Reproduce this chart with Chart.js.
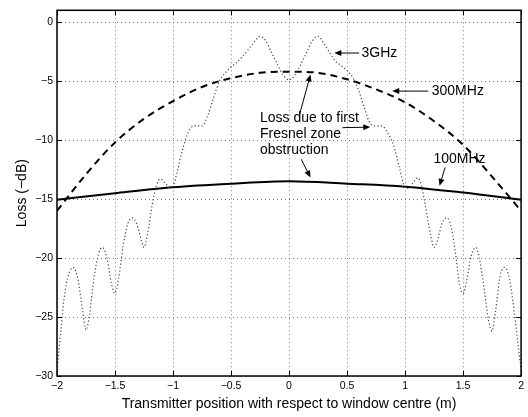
<!DOCTYPE html>
<html>
<head>
<meta charset="utf-8">
<script src="https://cdn.jsdelivr.net/npm/chart.js@4.4.1/dist/chart.umd.min.js"></script>
<style>
  html, body { margin: 0; padding: 0; background: #fff; }
  #c { display: block; }
</style>
</head>
<body>
<canvas id="c" width="528" height="417"></canvas>
<script>
// ── Data ─────────────────────────────────────────────────────────────────────
const xTicks = [-2, -1.5, -1, -0.5, 0, 0.5, 1, 1.5, 2];
const yTicks = [0, -5, -10, -15, -20, -25, -30];

// 100MHz, solid
const x100    = [-2, -1.5, -1, -0.5, 0, 0.5, 1, 1.5, 2];
const loss100 = [-15.05, -14.5, -14.0, -13.7, -13.5, -13.7, -13.95, -14.45, -15.05];

// 300MHz, dashed
const x300    = [-2, -1.75, -1.5, -1.25, -1, -0.75, -0.5, -0.25, 0, 0.25, 0.5, 0.75, 1, 1.25, 1.5, 1.75, 2];
const loss300 = [-16.0, -12.9, -10.2, -8.2, -6.7, -5.5, -4.75, -4.3, -4.2, -4.3, -4.85, -5.7, -6.8, -8.4, -10.4, -13.1, -16.0];

// 3GHz, dotted
const x3 = [
  -2.00, -1.97, -1.94, -1.90, -1.86, -1.82, -1.78, -1.75, -1.72, -1.68,
  -1.64, -1.61, -1.57, -1.53, -1.50, -1.47, -1.43, -1.39, -1.35, -1.31,
  -1.27, -1.25, -1.22, -1.18, -1.14, -1.11, -1.07, -1.03, -1.00, -0.96,
  -0.92, -0.88, -0.85, -0.80, -0.75, -0.70, -0.65, -0.60, -0.55, -0.50,
  -0.45, -0.40, -0.35, -0.30, -0.25, -0.20, -0.15, -0.10, -0.05,  0.00,
   0.05,  0.10,  0.15,  0.20,  0.25,  0.30,  0.35,  0.40,  0.45,  0.50,
   0.55,  0.60,  0.65,  0.70,  0.75,  0.80,  0.85,  0.90,  0.95,  1.00,
   1.03,  1.07,  1.11,  1.14,  1.17,  1.22,  1.25,  1.28,  1.32,  1.36,
   1.40,  1.44,  1.47,  1.50,  1.53,  1.57,  1.61,  1.64,  1.68,  1.72,
   1.75,  1.78,  1.82,  1.86,  1.90,  1.94,  1.97,  2.00
];
const loss3 = [
  -29.5, -26.5, -23.5, -21.4, -20.8, -21.8, -24.4, -26.1, -24.8, -21.6,
  -19.6, -19.1, -20.0, -22.2, -23.0, -21.8, -19.0, -17.1, -16.6, -17.2,
  -18.6, -19.1, -18.0, -15.5, -13.8, -13.3, -13.6, -14.0, -13.9, -12.5,
  -10.9,  -9.6,  -9.0,  -8.8,  -8.8,  -7.9,  -6.4,  -5.0,  -4.3,  -3.8,
   -3.4,  -2.9,  -2.3,  -1.7,  -1.2,  -1.6,  -2.6,  -3.6,  -4.5,  -4.9,
   -4.5,  -3.6,  -2.6,  -1.6,  -1.2,  -1.8,  -2.6,  -3.3,  -3.7,  -4.1,
   -4.7,  -5.8,  -7.3,  -8.6,  -8.8,  -8.8,  -9.4, -10.4, -12.3, -14.0,
  -14.1, -13.6, -13.2, -13.8, -15.3, -18.0, -19.1, -18.5, -17.0, -16.6,
  -17.5, -20.0, -22.3, -23.0, -22.0, -19.8, -19.1, -20.0, -22.5, -25.3,
  -26.2, -24.5, -21.5, -20.8, -21.8, -24.5, -27.0, -29.5
];

// Text annotations, in data units
const notes = [
  { lines: ['3GHz'],   x: 0.625, y: -2.64 },
  { lines: ['300MHz'], x: 1.23,  y: -5.85 },
  { lines: ['Loss due to first', 'Fresnel zone', 'obstruction'], x: -0.25, y: -8.1 },
  { lines: ['100MHz'], x: 1.245, y: -11.62 }
];
const arrows = [
  { from: [0.604, -2.62],  to: [0.39, -2.62] },
  { from: [1.20, -5.85],   to: [0.889, -5.85] },
  { from: [0.091, -7.82],  to: [0.185, -4.44] },
  { from: [0.46, -8.95],   to: [0.70, -8.9] },
  { from: [0.105, -11.62], to: [0.185, -13.18] },
  { from: [1.345, -12.33], to: [1.297, -13.88] }
];

const FONT = "'Liberation Sans', Arial, Helvetica, sans-serif";
const minus = v => String(v).replace('-', '\u2212');
const pts = (xs, ys) => xs.map((x, i) => ({ x, y: ys[i] }));

// ── Ram, inåtriktade tickmarkeringar och annoteringar ────────────────────────
const framePlugin = {
  id: 'frame',
  afterDatasetsDraw(chart) {
    const { ctx, chartArea: a, scales: { x, y } } = chart;
    ctx.save();
    ctx.strokeStyle = '#000';
    ctx.lineWidth = 1;
    ctx.beginPath();
    xTicks.forEach(v => {
      const px = Math.round(x.getPixelForValue(v)) + 0.5;
      ctx.moveTo(px, a.bottom); ctx.lineTo(px, a.bottom - 5);
      ctx.moveTo(px, a.top);    ctx.lineTo(px, a.top + 5);
    });
    yTicks.forEach(v => {
      const py = Math.round(y.getPixelForValue(v)) + 0.5;
      ctx.moveTo(a.left, py);  ctx.lineTo(a.left + 5, py);
      ctx.moveTo(a.right, py); ctx.lineTo(a.right - 5, py);
    });
    ctx.stroke();
    ctx.lineWidth = 1.5;
    ctx.strokeRect(a.left, a.top, a.width, a.height);

    // text
    ctx.fillStyle = '#000';
    ctx.font = '14px ' + FONT;
    ctx.textBaseline = 'middle';
    ctx.textAlign = 'left';
    notes.forEach(n => {
      const px = x.getPixelForValue(n.x);
      const py = y.getPixelForValue(n.y);
      n.lines.forEach((t, i) => ctx.fillText(t, px, py + i * 16.4));
    });

    // arrows
    ctx.lineWidth = 1;
    arrows.forEach(ar => {
      const x0 = x.getPixelForValue(ar.from[0]), y0 = y.getPixelForValue(ar.from[1]);
      const x1 = x.getPixelForValue(ar.to[0]),   y1 = y.getPixelForValue(ar.to[1]);
      const ang = Math.atan2(y1 - y0, x1 - x0);
      const hl = 7, hw = 3;
      ctx.beginPath();
      ctx.moveTo(x0, y0);
      ctx.lineTo(x1 - Math.cos(ang) * hl * 0.8, y1 - Math.sin(ang) * hl * 0.8);
      ctx.stroke();
      ctx.beginPath();
      ctx.moveTo(x1, y1);
      ctx.lineTo(x1 - Math.cos(ang) * hl - Math.sin(ang) * hw, y1 - Math.sin(ang) * hl + Math.cos(ang) * hw);
      ctx.lineTo(x1 - Math.cos(ang) * hl + Math.sin(ang) * hw, y1 - Math.sin(ang) * hl - Math.cos(ang) * hw);
      ctx.closePath();
      ctx.fill();
    });
    ctx.restore();
  }
};

const gridStyle = { color: '#777', lineWidth: 1, drawTicks: false, borderDash: [1, 3] };

new Chart(document.getElementById('c').getContext('2d'), {
  type: 'scatter',
  data: {
    datasets: [
      { label: '3GHz', data: pts(x3, loss3), showLine: true, pointRadius: 0,
        borderColor: '#444', borderWidth: 1.2, borderDash: [1.2, 2.3], cubicInterpolationMode: 'monotone' },
      { label: '300MHz', data: pts(x300, loss300), showLine: true, pointRadius: 0,
        borderColor: '#000', borderWidth: 2, borderDash: [7, 5], cubicInterpolationMode: 'monotone' },
      { label: '100MHz', data: pts(x100, loss100), showLine: true, pointRadius: 0,
        borderColor: '#000', borderWidth: 2, cubicInterpolationMode: 'monotone' }
    ]
  },
  options: {
    responsive: false,
    animation: false,
    layout: { padding: { top: 8, right: 3, left: 0, bottom: 0 } },
    plugins: { legend: { display: false }, tooltip: { enabled: false } },
    scales: {
      x: {
        type: 'linear', min: -2, max: 2,
        afterBuildTicks: s => { s.ticks = xTicks.map(v => ({ value: v })); },
        afterFit: s => { s.height = 41; },
        grid: gridStyle,
        border: { display: false, dash: [1, 3] },
        ticks: { color: '#000', padding: 4, font: { family: FONT, size: 10.5 }, callback: v => minus(v), maxRotation: 0 },
        title: { display: true, text: 'Transmitter position with respect to window centre (m)', color: '#000',
                 font: { family: FONT, size: 14 }, padding: { top: 0, bottom: 4.6 } }
      },
      y: {
        type: 'linear', min: -30, max: 1,
        afterBuildTicks: s => { s.ticks = yTicks.map(v => ({ value: v })); },
        afterFit: s => { s.width = 57; },
        grid: gridStyle,
        border: { display: false, dash: [1, 3] },
        ticks: { color: '#000', padding: 4, font: { family: FONT, size: 10.5 }, callback: v => minus(v) },
        title: { display: true, text: 'Loss (\u2212dB)', color: '#000',
                 font: { family: FONT, size: 14 }, padding: { top: 13.6, bottom: 0 } }
      }
    }
  },
  plugins: [framePlugin]
});
</script>
</body>
</html>
